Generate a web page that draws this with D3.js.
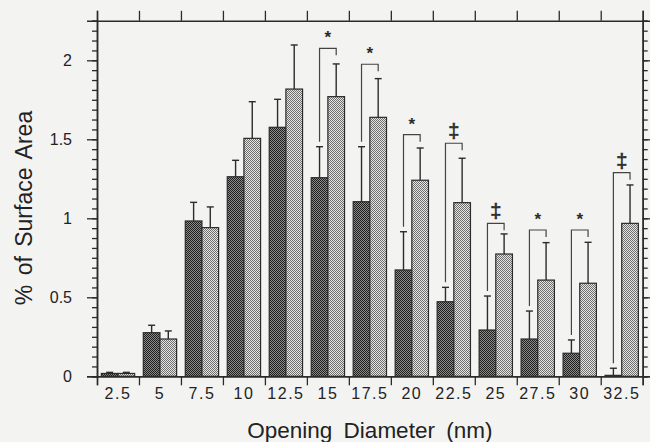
<!DOCTYPE html>
<html>
<head>
<meta charset="utf-8">
<script src="https://cdn.jsdelivr.net/npm/d3@7"></script>
<style>
  body { margin: 0; background: #f3f3f2; }
  svg { display: block; font-family: "Liberation Sans", Arial, sans-serif; }
</style>
</head>
<body>
<div id="chart"></div>
<script>
// Diameter classes (nm)
const categories = ["2.5", "5", "7.5", "10", "12.5", "15", "17.5", "20", "22.5", "25", "27.5", "30", "32.5"];

// Dark bars (first group) and their upper error bars
const darkValues = [0.018, 0.276, 0.983, 1.263, 1.576, 1.257, 1.105, 0.673, 0.472, 0.293, 0.236, 0.146, 0.006];
const darkErrors = [0.007, 0.047, 0.118, 0.104, 0.177, 0.196, 0.348, 0.242, 0.091, 0.215, 0.177, 0.084, 0.045];

// Light bars (second group) and their upper error bars
const lightValues = [0.018, 0.236, 0.941, 1.506, 1.818, 1.770, 1.639, 1.241, 1.099, 0.774, 0.609, 0.589, 0.968];
const lightErrors = [0.007, 0.051, 0.131, 0.232, 0.279, 0.207, 0.245, 0.204, 0.281, 0.127, 0.237, 0.259, 0.243];

// Significance brackets: category, bracket height, symbol
const sigCategories = ["15", "17.5", "20", "22.5", "25", "27.5", "30", "32.5"];
const sigLevels = [2.076, 1.975, 1.529, 1.475, 0.968, 0.926, 0.926, 1.289];
const sigSymbols = ["*", "*", "*", "‡", "‡", "*", "*", "‡"];

const yTicks = [0, 0.5, 1, 1.5, 2];

const width = 650, height = 442;
const margin = { top: 20.8, right: 7.3, bottom: 65.7, left: 97 };
const ink = "#2b2b2b";

const svg = d3.select("#chart").append("svg")
  .attr("width", width)
  .attr("height", height);

// hatch-like checker patterns
const defs = svg.append("defs");
function checker(id, a, b) {
  const p = defs.append("pattern").attr("id", id)
    .attr("width", 2).attr("height", 2).attr("patternUnits", "userSpaceOnUse");
  p.append("rect").attr("width", 2).attr("height", 2).attr("fill", b);
  p.append("rect").attr("width", 1).attr("height", 1).attr("fill", a);
  p.append("rect").attr("x", 1).attr("y", 1).attr("width", 1).attr("height", 1).attr("fill", a);
}
checker("darkPat", "#1e1e1e", "#8c8c8c");
checker("lightPat", "#6e6e6e", "#e6e6e6");

const x = d3.scaleBand()
  .domain(categories)
  .range([margin.left, width - margin.right])
  .paddingInner(0).paddingOuter(0);

const xSub = d3.scaleBand()
  .domain(["dark", "light"])
  .range([0, x.bandwidth()])
  .paddingInner(0).paddingOuter(0.26);

const y = d3.scaleLinear()
  .domain([0, 2.25])
  .range([height - margin.bottom, margin.top]);

// edges of the bands, for ticks between categories
const xEdge = d3.scaleLinear().domain([0, categories.length]).range(x.range());

const rows = categories.map((c, i) => ({
  cat: c,
  dark: darkValues[i], darkErr: darkErrors[i],
  light: lightValues[i], lightErr: lightErrors[i]
}));

const bars = [];
rows.forEach(r => {
  bars.push({ cat: r.cat, key: "dark", v: r.dark, e: r.darkErr });
  bars.push({ cat: r.cat, key: "light", v: r.light, e: r.lightErr });
});

// error bars (upper only)
const cap = 3.5;
const eb = svg.append("g").attr("stroke", ink).attr("stroke-width", 1.4);
bars.forEach(b => {
  const cx = x(b.cat) + xSub(b.key) + xSub.bandwidth() / 2;
  eb.append("line").attr("x1", cx).attr("x2", cx).attr("y1", y(b.v)).attr("y2", y(b.v + b.e));
  eb.append("line").attr("x1", cx - cap).attr("x2", cx + cap).attr("y1", y(b.v + b.e)).attr("y2", y(b.v + b.e));
});

// bars
svg.append("g").selectAll("rect")
  .data(bars)
  .join("rect")
  .attr("x", d => x(d.cat) + xSub(d.key))
  .attr("y", d => y(d.v))
  .attr("width", xSub.bandwidth())
  .attr("height", d => y(0) - y(d.v))
  .attr("fill", d => d.key === "dark" ? "url(#darkPat)" : "url(#lightPat)")
  .attr("stroke", ink)
  .attr("stroke-width", 1.2);

// significance brackets
const br = svg.append("g").attr("fill", "none").attr("stroke", "#444").attr("stroke-width", 1.2);
sigCategories.forEach((c, i) => {
  const r = rows[categories.indexOf(c)];
  const xl = x(c) + xSub("dark") + xSub.bandwidth() / 2;
  const xr = x(c) + xSub("light") + xSub.bandwidth() / 2;
  const yb = y(sigLevels[i]);
  const yLeft = y(r.dark + r.darkErr) - 5;
  br.append("path").attr("d", `M${xl},${yLeft}V${yb}H${xr}V${yb + 7}`);
  const star = sigSymbols[i] === "*";
  svg.append("text")
    .attr("x", (xl + xr) / 2)
    .attr("y", star ? yb - 5 : yb - 5)
    .attr("text-anchor", "middle")
    .attr("fill", ink)
    .attr("font-size", star ? 17 : 20)
    .attr("font-weight", star ? "bold" : "normal")
    .attr("stroke", star ? "none" : ink)
    .attr("stroke-width", 0.6)
    .text(sigSymbols[i]);
});

// left axis: minor ticks every 1/16, labelled ticks every 0.5
const minor = d3.range(0, 2.25 + 1e-9, 0.0625);
svg.append("g")
  .attr("transform", `translate(${margin.left},0)`)
  .call(d3.axisLeft(y).tickValues(minor).tickSize(5).tickFormat(""));
svg.append("g")
  .attr("class", "yMajor")
  .attr("transform", `translate(${margin.left},0)`)
  .call(d3.axisLeft(y).tickValues(yTicks).tickSize(10).tickPadding(15).tickFormat(d3.format("")));

// right axis
svg.append("g")
  .attr("transform", `translate(${width - margin.right},0)`)
  .call(d3.axisRight(y).tickValues(minor).tickSize(5).tickFormat(""));
svg.append("g")
  .attr("transform", `translate(${width - margin.right},0)`)
  .call(d3.axisRight(y).tickValues(yTicks).tickSize(8).tickFormat(""));

// bottom axis: ticks between bands, labels under bands
svg.append("g")
  .attr("transform", `translate(0,${y(0)})`)
  .call(d3.axisBottom(xEdge).tickValues(d3.range(categories.length + 1)).tickSize(9).tickFormat(""));
svg.append("g")
  .attr("class", "xLab")
  .attr("transform", `translate(0,${y(0)})`)
  .call(d3.axisBottom(x).tickSize(0).tickPadding(11));

// top axis
svg.append("g")
  .attr("transform", `translate(0,${margin.top})`)
  .call(d3.axisTop(xEdge).tickValues(d3.range(categories.length + 1)).tickSize(10).tickFormat(""));

svg.selectAll(".domain").attr("stroke", ink).attr("stroke-width", 1.5);
svg.selectAll(".tick line").attr("stroke", ink).attr("stroke-width", 1.3);
svg.selectAll(".tick text").attr("fill", "#222").attr("font-size", 16)
  .attr("font-family", "'Liberation Sans', Arial, sans-serif");
svg.selectAll(".xLab .tick text").attr("letter-spacing", 1.5);

// axis titles
svg.append("text")
  .attr("x", (margin.left + width - margin.right) / 2)
  .attr("y", 438)
  .attr("text-anchor", "middle")
  .attr("fill", "#222")
  .attr("font-size", 22.5)
  .attr("word-spacing", 5)
  .text("Opening Diameter (nm)");

svg.append("text")
  .attr("transform", `translate(32,208) rotate(-90)`)
  .attr("text-anchor", "middle")
  .attr("fill", "#222")
  .attr("font-size", 23)
  .attr("word-spacing", 3)
  .text("% of Surface Area");
</script>
</body>
</html>
